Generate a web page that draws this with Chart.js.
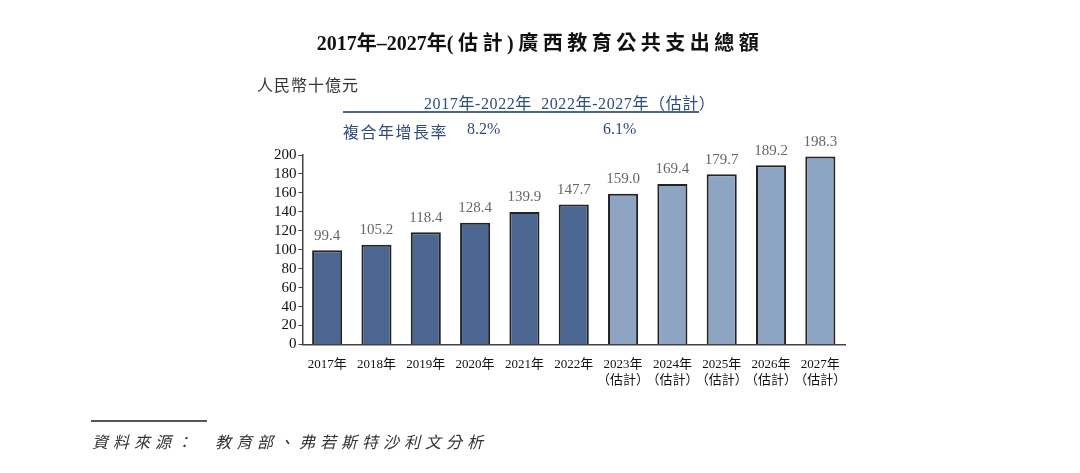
<!DOCTYPE html>
<html>
<head>
<meta charset="utf-8">
<script src="https://cdn.jsdelivr.net/npm/chart.js@4/dist/chart.umd.min.js"></script>
<style>
  body { margin: 0; background: #fff; }
  #wrap { position: relative; width: 1080px; height: 473px; overflow: hidden; }
  #c { position: absolute; left: 0; top: 0; }
  .t { position: absolute; white-space: nowrap; font-family: "Liberation Serif", "Noto Sans CJK TC", serif; }
</style>
</head>
<body>
<div id="wrap">
  <canvas id="c" width="1080" height="473"></canvas>
  <div class="t" style="left:0;width:1080px;text-align:center;top:27px;font-size:20px;font-weight:bold;color:#111;"><span>2017年–2027年</span><span style="letter-spacing:4.5px;">(估計)廣西教育公共支出總額</span></div>
  <div class="t" style="left:257px;top:72px;font-size:16px;color:#333;letter-spacing:1px;">人民幣十億元</div>
  <div class="t" style="left:424px;top:90px;font-size:16px;color:#2f4d7c;letter-spacing:0.6px;">2017年-2022年&nbsp;&nbsp;2022年-2027年（估計）</div>
  <div style="position:absolute;left:343px;top:111px;width:356px;height:2px;background:#4a6590;"></div>
  <div class="t" style="left:343px;top:119px;font-size:16px;color:#2f4d7c;letter-spacing:1.5px;">複合年增長率</div>
  <div class="t" style="left:467px;top:120px;font-size:16px;color:#2f4d7c;">8.2%</div>
  <div class="t" style="left:603px;top:120px;font-size:16px;color:#2f4d7c;">6.1%</div>
  <div style="position:absolute;left:91px;top:420px;width:116px;height:2px;background:#555;"></div>
  <div class="t" style="left:92px;top:429px;font-size:16px;font-style:italic;color:#333;letter-spacing:5px;">資料來源：&nbsp;&nbsp;教育部、弗若斯特沙利文分析</div>
</div>
<script>
const years = ['2017年', '2018年', '2019年', '2020年', '2021年', '2022年',
  ['2023年', '（估計）'], ['2024年', '（估計）'], ['2025年', '（估計）'], ['2026年', '（估計）'], ['2027年', '（估計）']];
const spending = [99.4, 105.2, 118.4, 128.4, 139.9, 147.7, 159.0, 169.4, 179.7, 189.2, 198.3];
const estimated = [false, false, false, false, false, false, true, true, true, true, true];
const yTicks = [0, 20, 40, 60, 80, 100, 120, 140, 160, 180, 200];

const barLabels = {
    id: 'barLabels',
    afterDatasetsDraw(chart) {
        const ctx = chart.ctx;
        const meta = chart.getDatasetMeta(0);
        ctx.save();
        ctx.font = '15px "Liberation Serif", serif';
        ctx.fillStyle = '#666';
        ctx.textAlign = 'center';
        ctx.textBaseline = 'bottom';
        meta.data.forEach((bar, i) => {
            ctx.fillText(spending[i].toFixed(1), bar.x, bar.y - 7);
        });
        ctx.restore();
    }
};

const ctx = document.getElementById('c').getContext('2d');
new Chart(ctx, {
    type: 'bar',
    data: {
        labels: years,
        datasets: [{
            data: spending,
            backgroundColor: estimated.map(e => e ? '#8ea4c3' : '#4b6690'),
            borderColor: '#222',
            borderWidth: 2,
            borderSkipped: 'bottom',
            categoryPercentage: 1,
            barPercentage: 0.61
        }]
    },
    options: {
        responsive: false,
        animation: false,
        layout: { padding: { left: 272, right: 235, top: 155, bottom: 72 } },
        plugins: { legend: { display: false }, tooltip: { enabled: false } },
        scales: {
            x: {
                grid: { display: false, drawTicks: false },
                border: { color: '#444', width: 1.5 },
                ticks: { color: '#111', font: { family: '"Liberation Serif", "Noto Sans CJK TC", serif', size: 13, lineHeight: 1.25 }, maxRotation: 0, autoSkip: false, padding: 12 }
            },
            y: {
                min: 0, max: 200,
                afterBuildTicks: axis => { axis.ticks = yTicks.map(v => ({ value: v })); },
                grid: { drawOnChartArea: false, tickLength: 4, color: '#444' },
                border: { color: '#444', width: 1.5 },
                ticks: { color: '#111', font: { family: '"Liberation Serif", serif', size: 15, lineHeight: 1 }, padding: 2, autoSkip: false }
            }
        }
    },
    plugins: [barLabels]
});
</script>
</body>
</html>
